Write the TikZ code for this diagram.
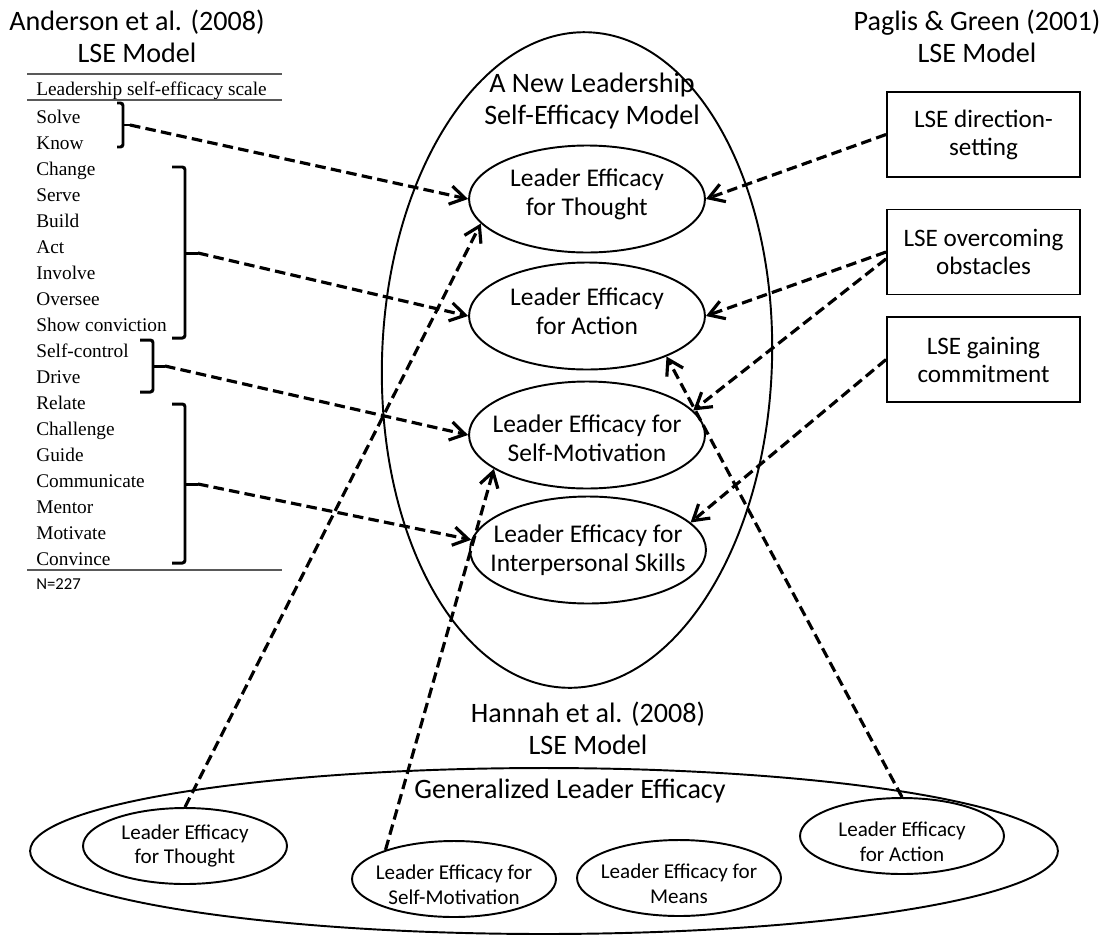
\documentclass[tikz,border=0pt]{standalone}
\usepackage{fontspec}
\setmainfont{Carlito}
\newfontfamily\scalefont{Liberation Serif}
\usetikzlibrary{shapes.geometric,arrows.meta}

\begin{document}
\begin{tikzpicture}[
    x=0.02cm, y=-0.02cm,
    hdr/.style={align=center, font=\fontsize{16}{18.2}\selectfont},
    big/.style={ellipse, draw, line width=1.1pt, inner sep=0pt},
    eff/.style={ellipse, draw, line width=1.1pt, inner sep=0pt,
                minimum width=4.72cm, minimum height=2.14cm},
    geff/.style={ellipse, draw, line width=1.1pt, inner sep=0pt,
                 minimum width=4.08cm, minimum height=1.52cm},
    lbl/.style={align=center, font=\fontsize{14.5}{16.5}\selectfont},
    slbl/.style={align=center, font=\fontsize{12}{14.2}\selectfont},
    lse/.style={rectangle, draw, line width=1.1pt, align=center,
                minimum width=3.86cm, minimum height=1.7cm,
                font=\fontsize{14.3}{16}\selectfont},
    itm/.style={inner sep=0pt, font=\scalefont\fontsize{11}{14.8}\selectfont},
    hrule/.style={line width=0.8pt, black!65},
    brk/.style={line width=1.7pt, rounded corners=1.5pt},
    darr/.style={-{Straight Barb[length=8.5pt,width=10.5pt]}, line width=1.8pt,
                 dash pattern=on 6pt off 3pt},
  ]
  \useasboundingbox (0,0) rectangle (1105,937);

  % ===== Anderson et al. (2008) scale (left) =====
  \node[hdr] (andr) at (137,36) {Anderson et al. (2008)\\LSE Model};
  \draw[hrule] (27,74) -- (282,74);
  \node[itm, anchor=base west] (shead) at (36,95) {Leadership self-efficacy scale};
  \draw[hrule] (27,100) -- (282,100);
  \node[itm, align=left, anchor=north west] (items) at (36,110) {%
    Solve\\Know\\Change\\Serve\\Build\\Act\\Involve\\Oversee\\Show conviction\\
    Self-control\\Drive\\Relate\\Challenge\\Guide\\Communicate\\Mentor\\
    Motivate\\Convince};
  \draw[hrule] (27,570) -- (282,570);
  \node[font=\fontsize{9.5}{11}\selectfont, anchor=west, inner sep=0pt] (nn) at (36,584) {N=227};

  % brackets
  \coordinate (k1) at (130,125);
  \coordinate (k2) at (198,253);
  \coordinate (k3) at (165,366);
  \coordinate (k4) at (198,484);
  \draw[brk] (117,103) -- (123,103) -- (123,147) -- (117,147);
  \draw[brk] (123,125) -- (k1);
  \draw[brk] (172,167) -- (185,167) -- (185,338) -- (172,338);
  \draw[brk] (185,253) -- (k2);
  \draw[brk] (140,340) -- (153,340) -- (153,392) -- (140,392);
  \draw[brk] (153,366) -- (k3);
  \draw[brk] (172,404) -- (185,404) -- (185,563) -- (172,563);
  \draw[brk] (185,484) -- (k4);

  % ===== New model (centre) =====
  \node[big, rotate=-2, minimum width=7.8cm, minimum height=13.12cm] (newm) at (577,360) {};
  \node[hdr] (newt) at (592,101) {A New Leadership\\Self-Efficacy Model};

  \node[eff, label={[lbl, yshift=2.5pt]center:Leader Efficacy\\for Thought}] (thought) at (587,199) {};
  \node[eff, label={[lbl, yshift=2.5pt]center:Leader Efficacy\\for Action}] (action) at (587,316) {};
  \node[eff, label={[lbl, yshift=-2pt]center:Leader Efficacy for\\Self-Motivation}] (smot) at (587,435) {};
  \node[eff, label={[lbl]center:Leader Efficacy for\\Interpersonal Skills}] (interp) at (588,550) {};

  % ===== Paglis & Green (2001) (right) =====
  \node[hdr] (pagl) at (977,36) {Paglis \& Green (2001)\\LSE Model};
  \node[lse] (dir) at (983.5,134.5) {LSE direction-\\setting};
  \node[lse] (obst) at (983.5,252) {LSE overcoming\\obstacles};
  \node[lse] (commit) at (983.5,359.5) {LSE gaining\\commitment};

  % ===== Hannah et al. (2008) (bottom) =====
  \node[hdr] (hann) at (588,728) {Hannah et al. (2008)\\LSE Model};
  \node[big, minimum width=20.56cm, minimum height=3.32cm] (gen) at (544,851) {};
  \node[hdr] (gent) at (570,791) {Generalized Leader Efficacy};

  \node[geff, label={[slbl]center:Leader Efficacy\\for Thought}] (sthought) at (185,846) {};
  \node[geff, label={[slbl, yshift=-3pt]center:Leader Efficacy for\\Self-Motivation}] (ssmot) at (454,879) {};
  \node[geff, label={[slbl, yshift=-3pt]center:Leader Efficacy for\\Means}] (smeans) at (679,878) {};
  \node[geff, label={[slbl, yshift=-3pt]center:Leader Efficacy\\for Action}] (saction) at (902,836) {};

  % scale items -> new model
  \draw[darr] (k1) -- (thought.west);
  \draw[darr] (k2) -- (action.west);
  \draw[darr] (k3) -- (smot.west);
  \draw[darr] (k4) -- (interp.175);

  % Paglis & Green -> new model
  \draw[darr] (dir.west) -- (thought.east);
  \draw[darr] (obst.west) -- (action.east);
  \draw[darr] (obst.184) -- (smot.13);
  \draw[darr] (commit.west) -- (interp.15);

  % Hannah et al. -> new model
  \draw[darr] (sthought.north) -- (thought.193);
  \draw[darr] (ssmot.157) -- (smot.200);
  \draw[darr] (saction.north) -- (action.333);

\end{tikzpicture}
\end{document}
